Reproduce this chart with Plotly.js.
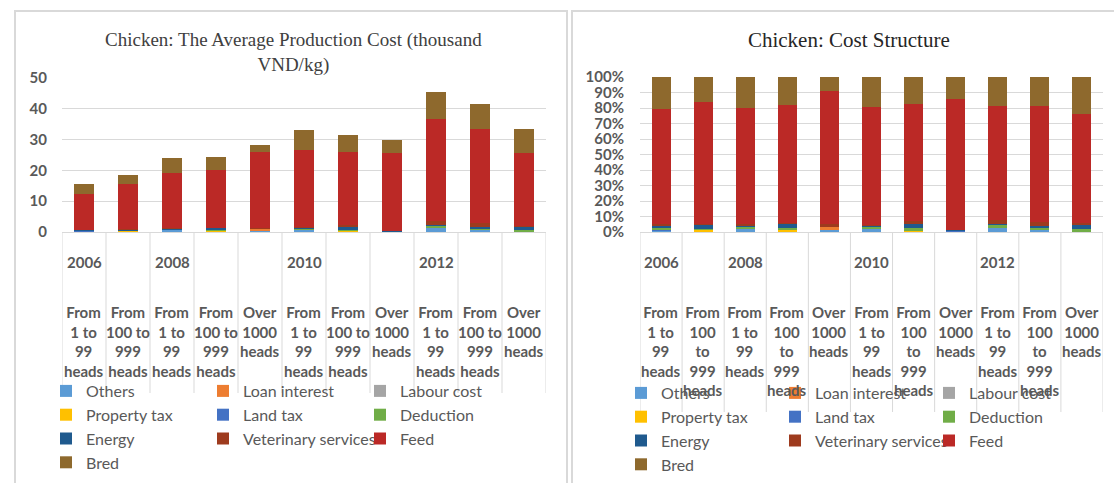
<!DOCTYPE html>
<html><head><meta charset="utf-8">
<script src="https://cdn.plot.ly/plotly-3.0.1.min.js"></script>
<style>
html,body{margin:0;padding:0;background:#fff;}
body{width:1114px;height:483px;overflow:hidden;position:relative;}
#left{position:absolute;left:0;top:0;width:568px;height:483px;}
#right{position:absolute;left:568px;top:0;width:546px;height:483px;}
.frame{position:absolute;border:2px solid #d9d9d9;pointer-events:none;z-index:5;}
#fl{left:14px;top:10px;width:550px;height:490px;}
#fr{left:571px;top:10px;width:560px;height:490px;}
</style></head>
<body>
<div id="left"></div><div id="right"></div>
<div class="frame" id="fl"></div><div class="frame" id="fr"></div>
<script>
// ---------- data (thousand VND/kg) ----------
const years = ['2006','','2008','','','2010','','','2012','',''];
const sizeLabelsLeft = ['From<br>1 to<br>99<br>heads','From<br>100 to<br>999<br>heads','From<br>1 to<br>99<br>heads','From<br>100 to<br>999<br>heads','Over<br>1000<br>heads','From<br>1 to<br>99<br>heads','From<br>100 to<br>999<br>heads','Over<br>1000<br>heads','From<br>1 to<br>99<br>heads','From<br>100 to<br>999<br>heads','Over<br>1000<br>heads'];
const sizeLabelsRight = ['From<br>1 to<br>99<br>heads','From<br>100<br>to<br>999<br>heads','From<br>1 to<br>99<br>heads','From<br>100<br>to<br>999<br>heads','Over<br>1000<br>heads','From<br>1 to<br>99<br>heads','From<br>100<br>to<br>999<br>heads','Over<br>1000<br>heads','From<br>1 to<br>99<br>heads','From<br>100<br>to<br>999<br>heads','Over<br>1000<br>heads'];

const others      = [0.1, 0.0, 0.5, 0.0, 0.4, 0.6, 0.0, 0.0, 1.3, 0.5, 0.0];
const loanInterest= [0.0, 0.0, 0.0, 0.0, 0.5, 0.0, 0.0, 0.0, 0.0, 0.0, 0.0];
const labourCost  = [0.0, 0.0, 0.0, 0.0, 0.0, 0.0, 0.0, 0.0, 0.0, 0.0, 0.0];
const propertyTax = [0.0, 0.2, 0.0, 0.3, 0.1, 0.0, 0.3, 0.0, 0.0, 0.0, 0.1];
const landTax     = [0.1, 0.0, 0.0, 0.0, 0.0, 0.0, 0.0, 0.1, 0.0, 0.0, 0.0];
const deduction   = [0.2, 0.2, 0.2, 0.4, 0.0, 0.4, 0.5, 0.0, 0.8, 0.5, 0.6];
const energy      = [0.2, 0.4, 0.3, 0.5, 0.0, 0.3, 0.9, 0.2, 0.2, 0.5, 0.8];
const veterinary  = [0.2, 0.2, 0.2, 0.2, 0.4, 0.3, 0.6, 0.1, 1.2, 1.3, 0.5];
const feed        = [11.5,14.5,18.0,18.6,24.5,25.1,23.8,25.3,33.3,30.8,23.6];
const bred        = [3.2, 3.0, 4.8, 4.4, 2.5, 6.5, 5.4, 4.2, 8.5, 7.8, 8.0];

const seriesNames  = ['Others','Loan interest','Labour cost','Property tax','Land tax','Deduction','Energy','Veterinary services','Feed','Bred'];
const seriesValues = [others, loanInterest, labourCost, propertyTax, landTax, deduction, energy, veterinary, feed, bred];
const seriesColors = ['#5B9BD5','#ED7D31','#A5A5A5','#FFC000','#4472C4','#70AD47','#1F5A8E','#9E3B1E','#BB2926','#8E692D'];

const idx = years.map((_, i) => i);
const TXT = '#595959', GRID = '#d9d9d9';
const tickFont = {family:'Lato, Noto Sans, sans-serif', size:15, color:TXT, weight:'bold'};
const legFont = {family:'Lato, Noto Sans, sans-serif', size:16, color:TXT};

function traces(legendId){
  return seriesNames.map((n, k) => ({
    type:'bar', name:n, x:idx, y:seriesValues[k], legend:legendId,
    marker:{color:seriesColors[k], line:{width:0}}, hoverinfo:'name+y'
  }));
}

function catDecor(plotH, labels, divDepth, yearOff, subOff){
  const ann = [], shp = [];
  idx.forEach(i => {
    if (years[i]) ann.push({x:i, xref:'x', y:-yearOff/plotH, yref:'paper', text:years[i], showarrow:false,
      yanchor:'middle', font:tickFont});
    ann.push({x:i, xref:'x', y:-subOff/plotH, yref:'paper', text:labels[i], showarrow:false,
      yanchor:'top', align:'center', font:tickFont});
  });
  for (let i = 0; i <= idx.length; i++) {
    shp.push({type:'line', xref:'x', yref:'paper', x0:i-0.5, x1:i-0.5, y0:0, y1:-divDepth/plotH,
      line:{color:GRID, width:1}});
  }
  return {ann, shp};
}

// ---------- left chart ----------
const Lm = {l:62, r:22, t:78, b:251};
const LH = 483 - Lm.t - Lm.b;
const dl = catDecor(LH, sizeLabelsLeft, 161, 30, 69);
Plotly.newPlot('left', traces('legend'), {
  width:568, height:483, margin:Lm, paper_bgcolor:'rgba(0,0,0,0)', plot_bgcolor:'#fff',
  barmode:'stack', bargap:0.55,
  title:{text:'Chicken: The Average Production Cost (thousand<br>VND/kg)', x:0.478, xref:'paper', xanchor:'center',
    y:0.905, yanchor:'top',
    font:{family:'Liberation Serif, serif', size:19, color:'#404040'}},
  xaxis:{range:[-0.5,10.5], showticklabels:false, showgrid:false, zeroline:false, showline:true, linecolor:GRID, ticks:''},
  yaxis:{range:[0,50], dtick:10, showgrid:true, gridcolor:GRID, zeroline:false, showline:false,
    tickfont:tickFont, ticklabelstandoff:14},
  legend:{orientation:'h', xref:'container', x:46/568, xanchor:'left', yref:'container', y:1-374/483, yanchor:'top',
    traceorder:'normal', entrywidth:112, font:legFont, bgcolor:'rgba(0,0,0,0)'},
  annotations:dl.ann, shapes:dl.shp, showlegend:true
}, {displayModeBar:false, staticPlot:true});

// ---------- right chart (same data, normalised to 100%) ----------
const Rm = {l:72, r:11, t:77, b:251};
const RH = 483 - Rm.t - Rm.b;
const dr = catDecor(RH, sizeLabelsRight, 180, 30, 69);
Plotly.newPlot('right', traces('legend'), {
  width:546, height:483, margin:Rm, paper_bgcolor:'rgba(0,0,0,0)', plot_bgcolor:'#fff',
  barmode:'stack', barnorm:'percent', bargap:0.55,
  title:{text:'Chicken: Cost Structure', x:0.451, xref:'paper', xanchor:'center', y:0.917, yanchor:'middle',
    font:{family:'Liberation Serif, serif', size:21, color:'#262626'}},
  xaxis:{range:[-0.5,10.5], showticklabels:false, showgrid:false, zeroline:false, showline:true, linecolor:GRID, ticks:''},
  yaxis:{range:[0,100], dtick:10, ticksuffix:'%', showgrid:true, gridcolor:GRID, zeroline:false, showline:false,
    tickfont:tickFont, ticklabelstandoff:15},
  legend:{orientation:'h', xref:'container', x:53/546, xanchor:'left', yref:'container', y:1-376/483, yanchor:'top',
    traceorder:'normal', entrywidth:109, font:legFont, bgcolor:'rgba(0,0,0,0)'},
  annotations:dr.ann, shapes:dr.shp, showlegend:true
}, {displayModeBar:false, staticPlot:true});
</script>
</body></html>
